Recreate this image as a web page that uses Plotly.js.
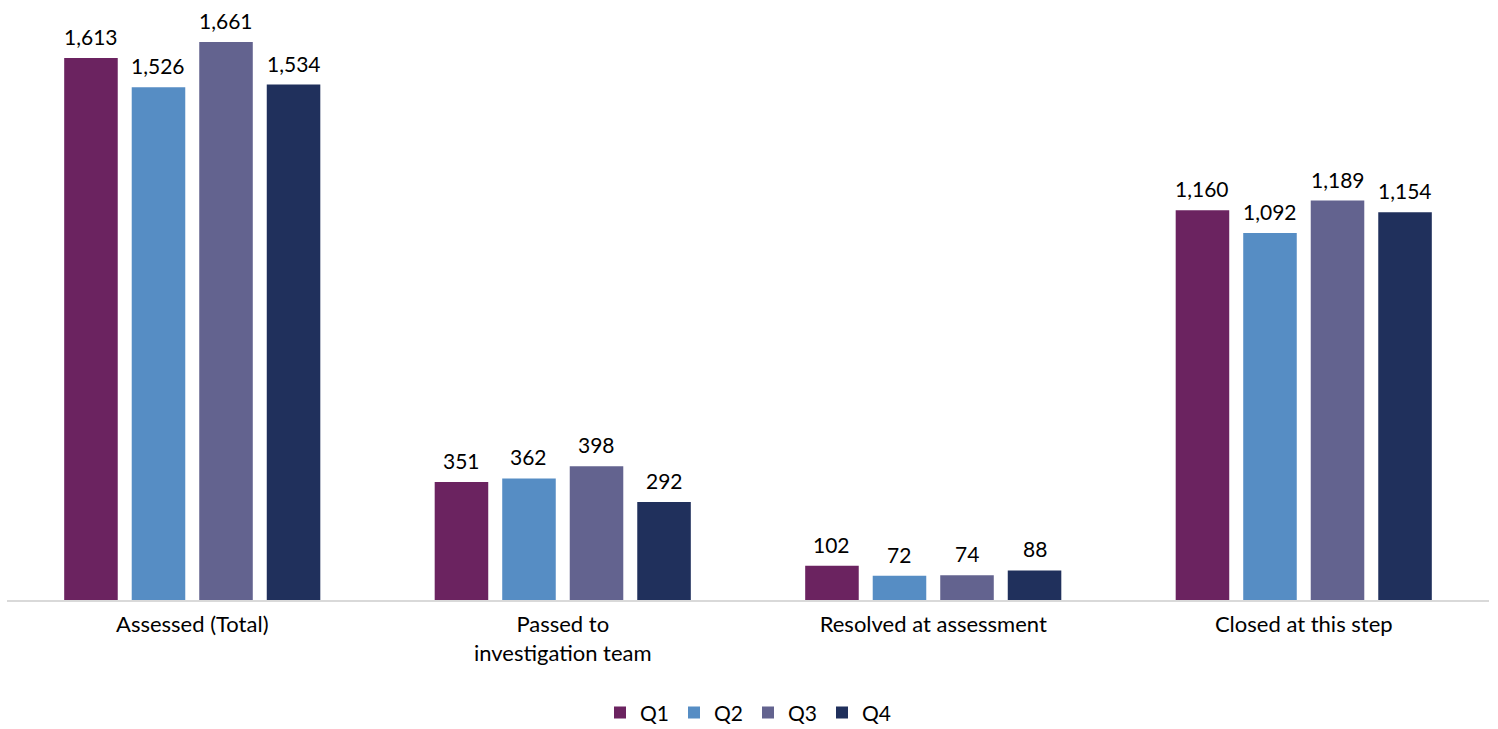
<!DOCTYPE html>
<html>
<head>
<meta charset="utf-8">
<script src="https://cdn.plot.ly/plotly-3.0.1.min.js"></script>
<style>html,body{margin:0;padding:0;background:#fff;}#chart{width:1498px;height:729px;}</style>
</head>
<body>
<div id="chart"></div>
<script>
const categories = ["Assessed (Total)", "Passed to<br>investigation team", "Resolved at assessment", "Closed at this step"];
const seriesNames = ["Q1", "Q2", "Q3", "Q4"];
const q1 = [1613, 351, 102, 1160];
const q2 = [1526, 362, 72, 1092];
const q3 = [1661, 398, 74, 1189];
const q4 = [1534, 292, 88, 1154];
const colors = ["#6B2360", "#568DC4", "#63638F", "#20305C"];

const allValues = [q1, q2, q3, q4];
const fontFam = "Lato, 'Open Sans', sans-serif";
const bargap = 0.271;
const slot = (1 - bargap) / allValues.length;

const traces = allValues.map((vals, i) => ({
  type: 'bar',
  name: seriesNames[i],
  x: categories,
  y: vals,
  marker: {color: colors[i]},
  hoverinfo: 'none'
}));

const annotations = [];
allValues.forEach((vals, i) => {
  vals.forEach((v, j) => {
    annotations.push({
      xref: 'x', yref: 'y',
      x: j + (i - (allValues.length - 1) / 2) * slot,
      y: v,
      text: v.toLocaleString('en-US'),
      showarrow: false,
      xanchor: 'center', yanchor: 'bottom',
      yshift: 7,
      font: {family: fontFam, size: 21, color: '#000'}
    });
  });
});

const layout = {
  width: 1498, height: 729,
  margin: {l: 7, r: 9, t: 5, b: 129, autoexpand: false},
  paper_bgcolor: '#fff', plot_bgcolor: '#fff',
  barmode: 'group',
  bargap: bargap,
  bargroupgap: 0.207,
  font: {family: fontFam, size: 20, color: '#000'},
  annotations: annotations,
  xaxis: {
    showline: true, linecolor: '#d9d9d9', linewidth: 1.5,
    ticks: '', showgrid: false, zeroline: false, automargin: false,
    ticklabelstandoff: 4,
    tickfont: {family: fontFam, size: 22, color: '#000'}
  },
  yaxis: {
    range: [0, 1771], visible: false, showgrid: false, zeroline: false
  },
  showlegend: true,
  legend: {
    orientation: 'h', x: 0.5, xanchor: 'center',
    yref: 'container', y: 0.022, yanchor: 'middle',
    font: {family: fontFam, size: 21, color: '#000'},
    itemwidth: 30, tracegroupgap: 0
  }
};

Plotly.newPlot('chart', traces, layout, {displayModeBar: false, staticPlot: true});
</script>
</body>
</html>
